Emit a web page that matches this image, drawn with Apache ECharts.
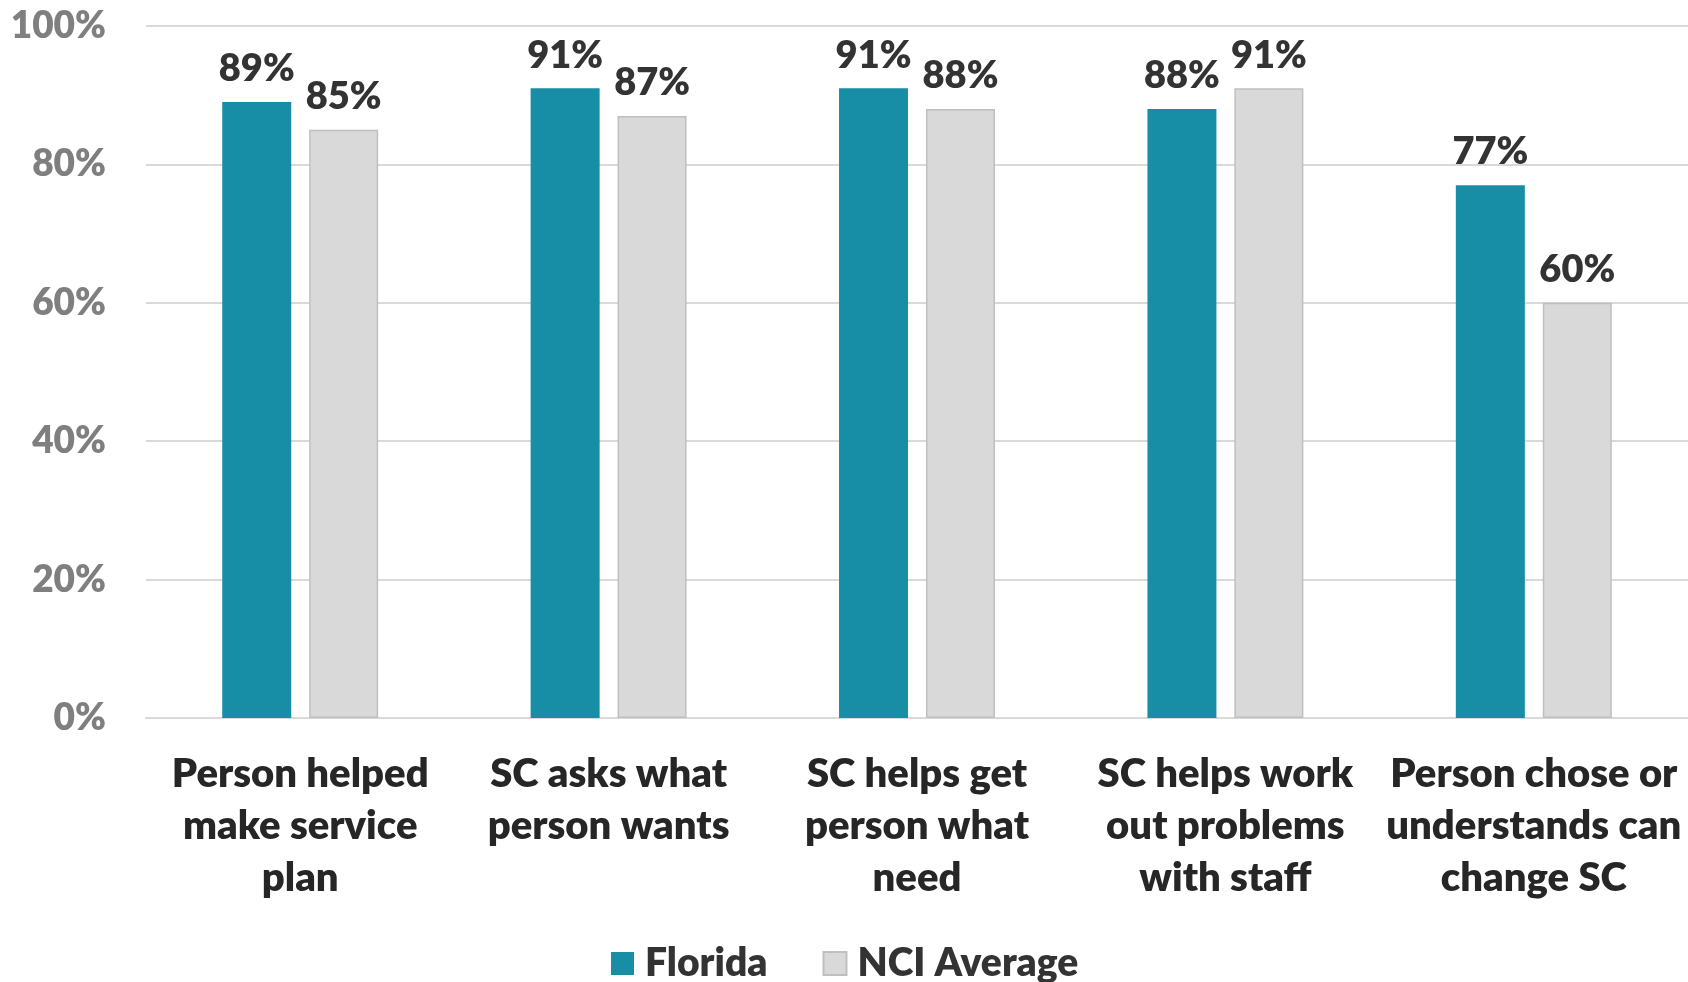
<!DOCTYPE html>
<html>
<head>
<meta charset="utf-8">
<script src="https://cdn.jsdelivr.net/npm/echarts@6/dist/echarts.min.js"></script>
<style>html,body{margin:0;padding:0;background:#fff}#c{width:1688px;height:982px}</style>
</head>
<body>
<div id="c"></div>
<script>
const categories = [
  "Person helped\nmake service\nplan",
  "SC asks what\nperson wants",
  "SC helps get\nperson what\nneed",
  "SC helps work\nout problems\nwith staff",
  "Person chose or\nunderstands can\nchange SC"
];
const floridaValues = [89, 91, 91, 88, 77];
const nciValues = [85, 87, 88, 91, 60];
const seriesNames = ["Florida", "NCI Average"];

const FONT = "Lato, 'Open Sans', sans-serif";
const W = 800;
const chart = echarts.init(document.getElementById('c'));
chart.setOption({
  animation: false,
  backgroundColor: '#ffffff',
  grid: { left: 146, right: 0, top: 26, bottom: 264 },
  legend: {
    data: seriesNames,
    left: 606, top: 939,
    icon: 'rect',
    itemWidth: 23, itemHeight: 23, itemGap: 55,
    textStyle: { fontFamily: FONT, fontWeight: W, fontSize: 39, color: '#333333', padding: [0,0,0,6] }
  },
  xAxis: {
    type: 'category',
    data: categories,
    axisLine: { show: true, lineStyle: { color: '#d9d9d9', width: 2 } },
    axisTick: { show: false },
    axisLabel: { interval: 0, margin: 30, fontFamily: FONT, fontWeight: W, fontSize: 40, lineHeight: 52, color: '#262626' }
  },
  yAxis: {
    type: 'value', min: 0, max: 100, interval: 20,
    axisLine: { show: false }, axisTick: { show: false },
    splitLine: { lineStyle: { color: '#d9d9d9', width: 2 } },
    axisLabel: { formatter: '{value}%', margin: 40, fontFamily: FONT, fontWeight: W, fontSize: 37, color: '#7f7f7f' }
  },
  series: [
    {
      name: seriesNames[0], type: 'bar', data: floridaValues,
      barWidth: 69, barGap: '26%',
      itemStyle: { color: '#188da6' },
      label: { show: true, position: 'top', distance: 14, formatter: '{c}%', fontFamily: FONT, fontWeight: W, fontSize: 38, color: '#333333' }
    },
    {
      name: seriesNames[1], type: 'bar', data: nciValues,
      barWidth: 69,
      itemStyle: { color: '#d9d9d9', borderColor: '#bfbfbf', borderWidth: 1.5 },
      label: { show: true, position: 'top', distance: 14, formatter: '{c}%', fontFamily: FONT, fontWeight: W, fontSize: 38, color: '#333333' }
    }
  ]
});
</script>
</body>
</html>
